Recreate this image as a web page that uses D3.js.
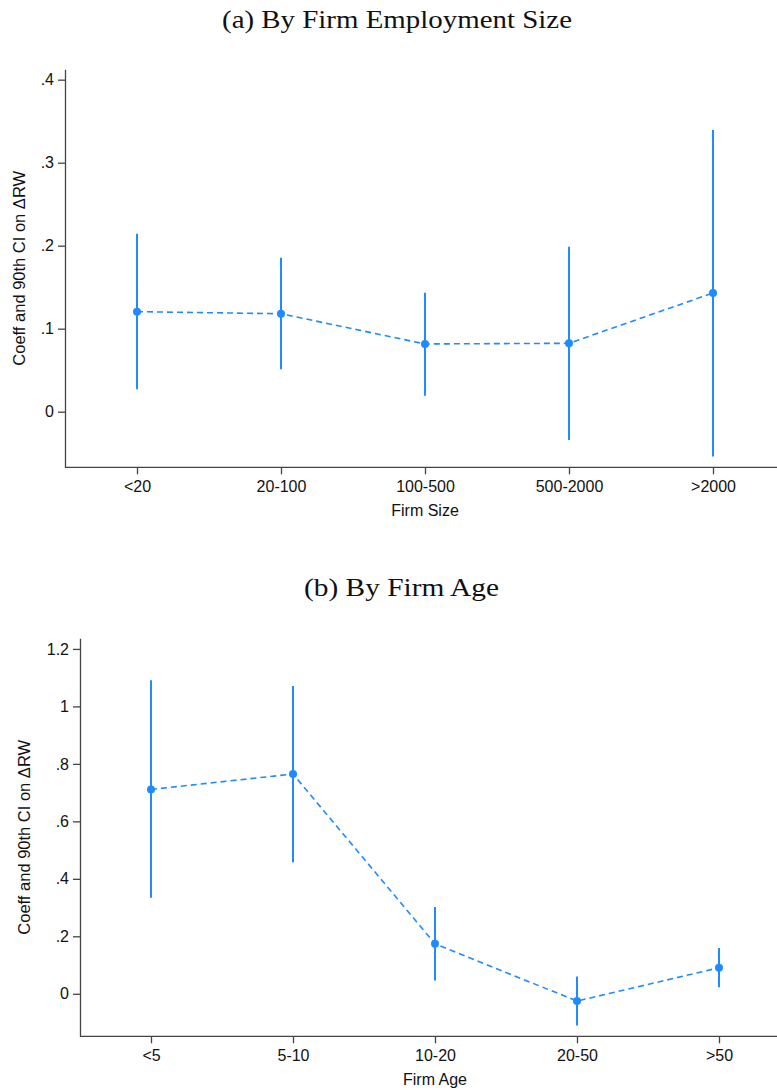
<!DOCTYPE html>
<html>
<head>
<meta charset="utf-8">
<script src="https://cdn.jsdelivr.net/npm/d3@7"></script>
<style>
  body { margin: 0; background: #fff; }
  svg { display: block; }
  .tick text { font-family: "Liberation Sans", Arial, sans-serif; font-size: 16px; fill: #111; }
</style>
</head>
<body>
<svg width="777" height="1090"></svg>
<script>
var width = 777;
var blue = "#1f8bff";

// panel (a) - firm size
var sizeCats  = ["<20", "20-100", "100-500", "500-2000", ">2000"];
var sizeCoef  = [0.1205, 0.118, 0.0816, 0.0824, 0.143];
var sizeLo    = [0.027, 0.051, 0.0193, -0.034, -0.054];
var sizeHi    = [0.2145, 0.1855, 0.1434, 0.1988, 0.3394];
var sizeTicks = [0, 0.1, 0.2, 0.3, 0.4];
var sizeTickLabels = ["0", ".1", ".2", ".3", ".4"];

// panel (b) - firm age
var ageCats  = ["<5", "5-10", "10-20", "20-50", ">50"];
var ageCoef  = [0.711, 0.7647, 0.174, -0.0254, 0.0905];
var ageLo    = [0.334, 0.458, 0.0466, -0.110, 0.0223];
var ageHi    = [1.091, 1.071, 0.302, 0.0605, 0.159];
var ageTicks = [0, 0.2, 0.4, 0.6, 0.8, 1, 1.2];
var ageTickLabels = ["0", ".2", ".4", ".6", ".8", "1", "1.2"];

var svg = d3.select('svg');

function drawPanel(opt) {
  var x = d3.scalePoint().domain(opt.cats).range([opt.left, opt.left + opt.step * 5]).padding(0.5);
  var y = d3.scaleLinear().domain(opt.ydom).range([opt.bottom, opt.top]);

  var data = opt.cats.map(function (c, i) {
    return {cat: c, coef: opt.coef[i], lo: opt.lo[i], hi: opt.hi[i]};
  });

  // title
  svg.append("text")
    .attr("x", opt.titleX)
    .attr("y", opt.titleY)
    .attr("text-anchor", "middle")
    .attr("textLength", opt.titleLen)
    .attr("lengthAdjust", "spacingAndGlyphs")
    .style("font-family", "'Liberation Serif', 'DejaVu Serif', serif")
    .style("font-size", "26px")
    .style("fill", "#111")
    .text(opt.title);

  // axes
  var ax = svg.append('g')
    .attr("transform", "translate(0," + opt.bottom + ")")
    .call(d3.axisBottom(x).tickSizeOuter(0).tickSize(7).tickPadding(6));
  var ay = svg.append('g')
    .attr("transform", "translate(" + opt.left + ",0)")
    .call(d3.axisLeft(y).tickValues(opt.ticks).tickSize(7).tickSizeOuter(0).tickPadding(4)
      .tickFormat(function (d, i) { return opt.tickLabels[i]; }));
  ax.select(".domain").attr("d", "M" + opt.left + ",0H" + width);
  [ax, ay].forEach(function (g) {
    g.selectAll(".domain, .tick line").attr("stroke", "#444").attr("stroke-width", 1.3);
  });

  // axis titles
  svg.append("text")
    .attr("x", (opt.left + opt.left + opt.step * 5) / 2)
    .attr("y", opt.bottom + 49)
    .attr("text-anchor", "middle")
    .style("font-family", "'Liberation Sans', Arial, sans-serif")
    .style("font-size", "16px")
    .style("fill", "#111")
    .text(opt.xlabel);

  svg.append("text")
    .attr("transform", "rotate(-90)")
    .attr("x", -(opt.top + opt.bottom) / 2)
    .attr("y", opt.ylabX)
    .attr("text-anchor", "middle")
    .style("font-family", "'Liberation Sans', Arial, sans-serif")
    .style("font-size", "16.5px")
    .style("fill", "#111")
    .text("Coeff and 90th CI on \u0394RW");

  // CI bars
  svg.selectAll(null)
    .data(data)
    .enter()
    .append("line")
    .attr("x1", function (d) { return x(d.cat); })
    .attr("x2", function (d) { return x(d.cat); })
    .attr("y1", function (d) { return y(d.lo); })
    .attr("y2", function (d) { return y(d.hi); })
    .attr("stroke", blue)
    .attr("stroke-width", 2);

  // dashed connector
  var line = d3.line()
    .x(function (d) { return x(d.cat); })
    .y(function (d) { return y(d.coef); });
  svg.append("path")
    .datum(data)
    .attr("d", line)
    .attr("fill", "none")
    .attr("stroke", blue)
    .attr("stroke-width", 1.6)
    .attr("stroke-dasharray", "6,4");

  // points
  svg.selectAll(null)
    .data(data)
    .enter()
    .append("circle")
    .attr("cx", function (d) { return x(d.cat); })
    .attr("cy", function (d) { return y(d.coef); })
    .attr("r", 4)
    .attr("fill", blue);
}

drawPanel({
  title: "(a) By Firm Employment Size", titleX: 397, titleY: 28, titleLen: 350,
  cats: sizeCats, coef: sizeCoef, lo: sizeLo, hi: sizeHi,
  ticks: sizeTicks, tickLabels: sizeTickLabels,
  left: 65, step: 144, top: 69.3, bottom: 467.3, ydom: [-0.067, 0.4125],
  xlabel: "Firm Size", ylabX: 25
});

drawPanel({
  title: "(b) By Firm Age", titleX: 401.5, titleY: 596, titleLen: 195,
  cats: ageCats, coef: ageCoef, lo: ageLo, hi: ageHi,
  ticks: ageTicks, tickLabels: ageTickLabels,
  left: 80, step: 142, top: 638.3, bottom: 1036.3, ydom: [-0.148, 1.237],
  xlabel: "Firm Age", ylabX: 30
});
</script>
</body>
</html>
